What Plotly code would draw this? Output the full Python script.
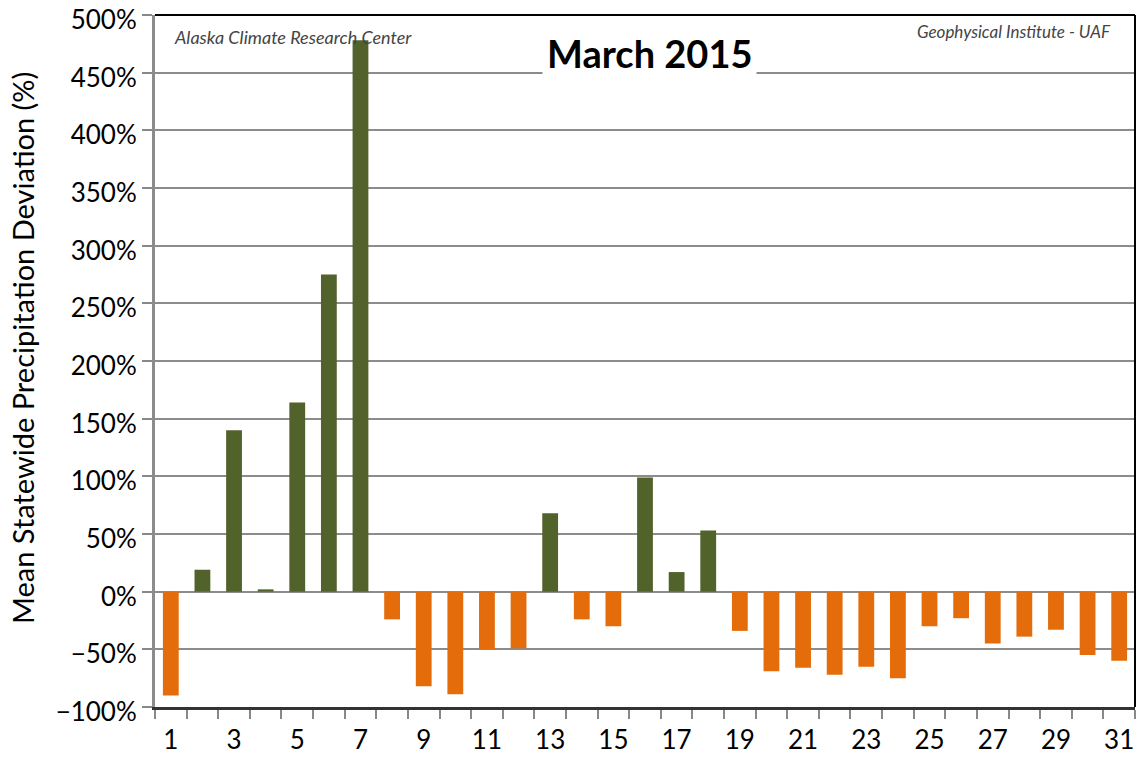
import plotly.graph_objects as go

days = list(range(1, 32))
deviation = [-90, 19, 140, 2, 164, 275, 478, -24, -82, -89, -50, -49, 68, -24, -30,
             99, 17, 53, -34, -69, -66, -72, -65, -75, -30, -23, -45, -39, -33, -55, -60]
tick_days = list(range(1, 32, 2))
title_text = "March 2015"
left_note = "Alaska Climate Research Center"
right_note = "Geophysical Institute - UAF"
y_title = "Mean Statewide Precipitation Deviation (%)"

GREEN = "#52622b"
ORANGE = "#e46c0a"
colors = [GREEN if v >= 0 else ORANGE for v in deviation]

fig = go.Figure(go.Bar(x=days, y=deviation, marker=dict(color=colors, line=dict(width=0)),
                       width=0.5, showlegend=False))

W, H = 1138, 765
L, R, T, B = 155, 3, 15, 58
PW, PH = W - L - R, H - T - B


def px_x(x):
    return (x - L) / PW


def px_y(y):
    return (H - B - y) / PH


FONT = "Lato, Open Sans, sans-serif"

fig.update_layout(
    width=W, height=H,
    margin=dict(l=L, r=R, t=T, b=B, autoexpand=False),
    paper_bgcolor="white", plot_bgcolor="white",
    font=dict(family=FONT, color="black"),
    xaxis=dict(
        range=[0.5, 31.5], tickmode="array", tickvals=tick_days,
        ticktext=[str(d) for d in tick_days],
        ticks="", showgrid=False, zeroline=False, automargin=False,
        tickfont=dict(size=26, family=FONT, color="black"),
        showline=True, linecolor="#333333", linewidth=3,
        minor=dict(ticks="outside", tick0=0.5, dtick=1, ticklen=9, tickwidth=2,
                   tickcolor="#888888", showgrid=False),
        ticklabelstandoff=8,
        fixedrange=True,
    ),
    yaxis=dict(
        range=[-100, 500], tickmode="linear", tick0=-100, dtick=50, ticksuffix="%",
        ticks="outside", ticklen=10, tickwidth=2, tickcolor="#888888",
        showgrid=True, gridcolor="#8c8c8c", gridwidth=1.5,
        zeroline=True, zerolinecolor="#8c8c8c", zerolinewidth=1.5,
        showline=True, linecolor="#8c8c8c", linewidth=3,
        tickfont=dict(size=26, family=FONT, color="black"),
        ticklabeloverflow="allow", automargin=False, ticklabelshift=5,
        fixedrange=True,
    ),
)

# top and right frame lines
fig.add_shape(type="line", xref="paper", yref="paper", x0=0, x1=1, y0=1, y1=1,
              line=dict(color="black", width=2))
fig.add_shape(type="line", xref="paper", yref="paper", x0=1, x1=1, y0=0, y1=1,
              line=dict(color="black", width=2))

fig.add_annotation(text=y_title, xref="paper", yref="paper",
                   x=px_x(22), y=px_y(348), xanchor="center", yanchor="middle",
                   textangle=-90, showarrow=False,
                   font=dict(size=29, family=FONT, color="black"))
fig.add_annotation(text="<b>" + title_text + "</b>", xref="paper", yref="paper",
                   x=px_x(649.5), y=px_y(53), xanchor="center", yanchor="middle", showarrow=False,
                   font=dict(size=38, family=FONT, color="black"),
                   bgcolor="white", borderpad=4)
fig.add_annotation(text="<i>" + left_note + "</i>", xref="paper", yref="paper",
                   x=px_x(172), y=px_y(37), xanchor="left", yanchor="middle", showarrow=False,
                   font=dict(size=18, family=FONT, color="#444444"))
fig.add_annotation(text="<i>" + right_note + "</i>", xref="paper", yref="paper",
                   x=px_x(1113), y=px_y(32), xanchor="right", yanchor="middle", showarrow=False,
                   font=dict(size=17, family=FONT, color="#444444"))

fig.write_html("out.html", config={"displayModeBar": False},
               post_script="document.body.style.margin='0';document.body.style.overflow='hidden';")
